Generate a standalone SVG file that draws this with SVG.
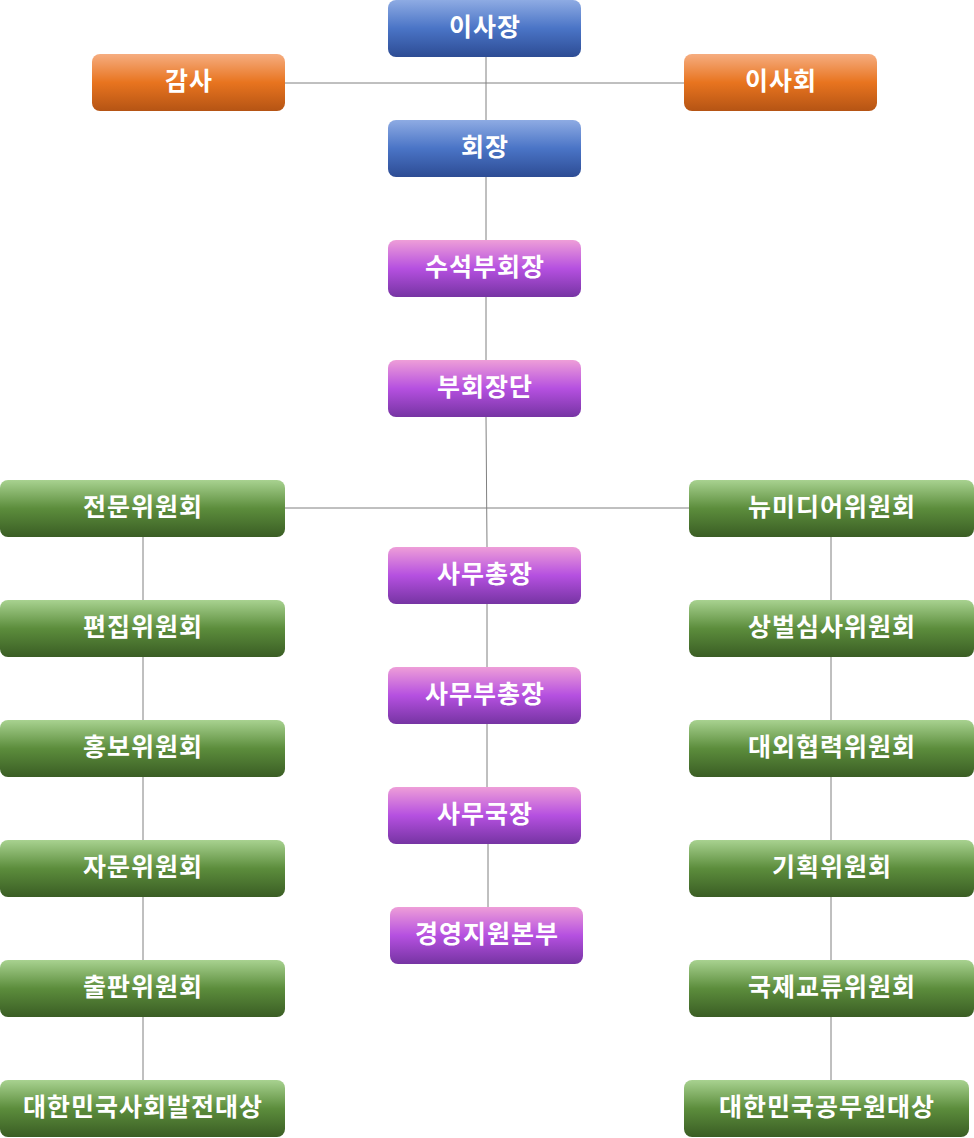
<svg xmlns="http://www.w3.org/2000/svg" width="974" height="1138" viewBox="0 0 974 1138">
<defs>
<linearGradient id="gBlue" x1="0" y1="0" x2="0" y2="1">
<stop offset="0" stop-color="#8eabe3"/><stop offset="0.5" stop-color="#4a74c6"/><stop offset="1" stop-color="#2d4c94"/>
</linearGradient>
<linearGradient id="gOrange" x1="0" y1="0" x2="0" y2="1">
<stop offset="0" stop-color="#f6ad80"/><stop offset="0.5" stop-color="#e8741f"/><stop offset="1" stop-color="#b55414"/>
</linearGradient>
<linearGradient id="gPurple" x1="0" y1="0" x2="0" y2="1">
<stop offset="0" stop-color="#ee9ed8"/><stop offset="0.5" stop-color="#b550e0"/><stop offset="1" stop-color="#7634a3"/>
</linearGradient>
<linearGradient id="gGreen" x1="0" y1="0" x2="0" y2="1">
<stop offset="0" stop-color="#a8d290"/><stop offset="0.5" stop-color="#5c8d3c"/><stop offset="1" stop-color="#3a5d24"/>
</linearGradient>
</defs>
<style>
rect.n{rx:8px;ry:8px}
.b{fill:url(#gBlue)}.o{fill:url(#gOrange)}.p{fill:url(#gPurple)}.g{fill:url(#gGreen)}
text{font-family:"Noto Sans CJK KR","Noto Sans",sans-serif;font-weight:bold;font-size:25px;letter-spacing:1px;fill:#ffffff;text-anchor:middle}
.c line{stroke:#808080;stroke-width:1}
</style>
<rect width="974" height="1138" fill="#ffffff"/>
<g class="c" id="connectors">
<line x1="486" y1="57" x2="486" y2="120"/>
<line x1="285" y1="83" x2="684" y2="83"/>
<line x1="486" y1="177" x2="486" y2="240"/>
<line x1="486" y1="297" x2="486" y2="360"/>
<line x1="486" y1="417" x2="487" y2="547"/>
<line x1="285" y1="508" x2="689" y2="508"/>
<line x1="487" y1="604" x2="487" y2="667"/>
<line x1="487" y1="724" x2="487" y2="787"/>
<line x1="488" y1="844" x2="488" y2="907"/>
<line x1="143" y1="537" x2="143" y2="1080"/>
<line x1="831" y1="537" x2="831" y2="1080"/>
</g>
<g id="n1"><rect class="n b" x="388" y="0" width="193" height="57"/><text x="485" y="36">이사장</text></g>
<g id="n2"><rect class="n o" x="92" y="54" width="193" height="57"/><text x="189" y="90">감사</text></g>
<g id="n3"><rect class="n o" x="684" y="54" width="193" height="57"/><text x="781" y="90">이사회</text></g>
<g id="n4"><rect class="n b" x="388" y="120" width="193" height="57"/><text x="485" y="156">회장</text></g>
<g id="n5"><rect class="n p" x="388" y="240" width="193" height="57"/><text x="485" y="276">수석부회장</text></g>
<g id="n6"><rect class="n p" x="388" y="360" width="193" height="57"/><text x="485" y="396">부회장단</text></g>
<g id="n7"><rect class="n p" x="388" y="547" width="193" height="57"/><text x="485" y="583">사무총장</text></g>
<g id="n8"><rect class="n p" x="388" y="667" width="193" height="57"/><text x="485" y="703">사무부총장</text></g>
<g id="n9"><rect class="n p" x="388" y="787" width="193" height="57"/><text x="485" y="823">사무국장</text></g>
<g id="n10"><rect class="n p" x="390" y="907" width="193" height="57"/><text x="487" y="943">경영지원본부</text></g>
<g id="l1"><rect class="n g" x="0" y="480" width="285" height="57"/><text x="143" y="516">전문위원회</text></g>
<g id="l2"><rect class="n g" x="0" y="600" width="285" height="57"/><text x="143" y="636">편집위원회</text></g>
<g id="l3"><rect class="n g" x="0" y="720" width="285" height="57"/><text x="143" y="756">홍보위원회</text></g>
<g id="l4"><rect class="n g" x="0" y="840" width="285" height="57"/><text x="143" y="876">자문위원회</text></g>
<g id="l5"><rect class="n g" x="0" y="960" width="285" height="57"/><text x="143" y="996">출판위원회</text></g>
<g id="l6"><rect class="n g" x="0" y="1080" width="285" height="57"/><text x="143" y="1116">대한민국사회발전대상</text></g>
<g id="r1"><rect class="n g" x="689" y="480" width="285" height="57"/><text x="832" y="516">뉴미디어위원회</text></g>
<g id="r2"><rect class="n g" x="689" y="600" width="285" height="57"/><text x="832" y="636">상벌심사위원회</text></g>
<g id="r3"><rect class="n g" x="689" y="720" width="285" height="57"/><text x="832" y="756">대외협력위원회</text></g>
<g id="r4"><rect class="n g" x="689" y="840" width="285" height="57"/><text x="832" y="876">기획위원회</text></g>
<g id="r5"><rect class="n g" x="689" y="960" width="285" height="57"/><text x="832" y="996">국제교류위원회</text></g>
<g id="r6"><rect class="n g" x="684" y="1080" width="285" height="57"/><text x="827" y="1116">대한민국공무원대상</text></g>
</svg>
